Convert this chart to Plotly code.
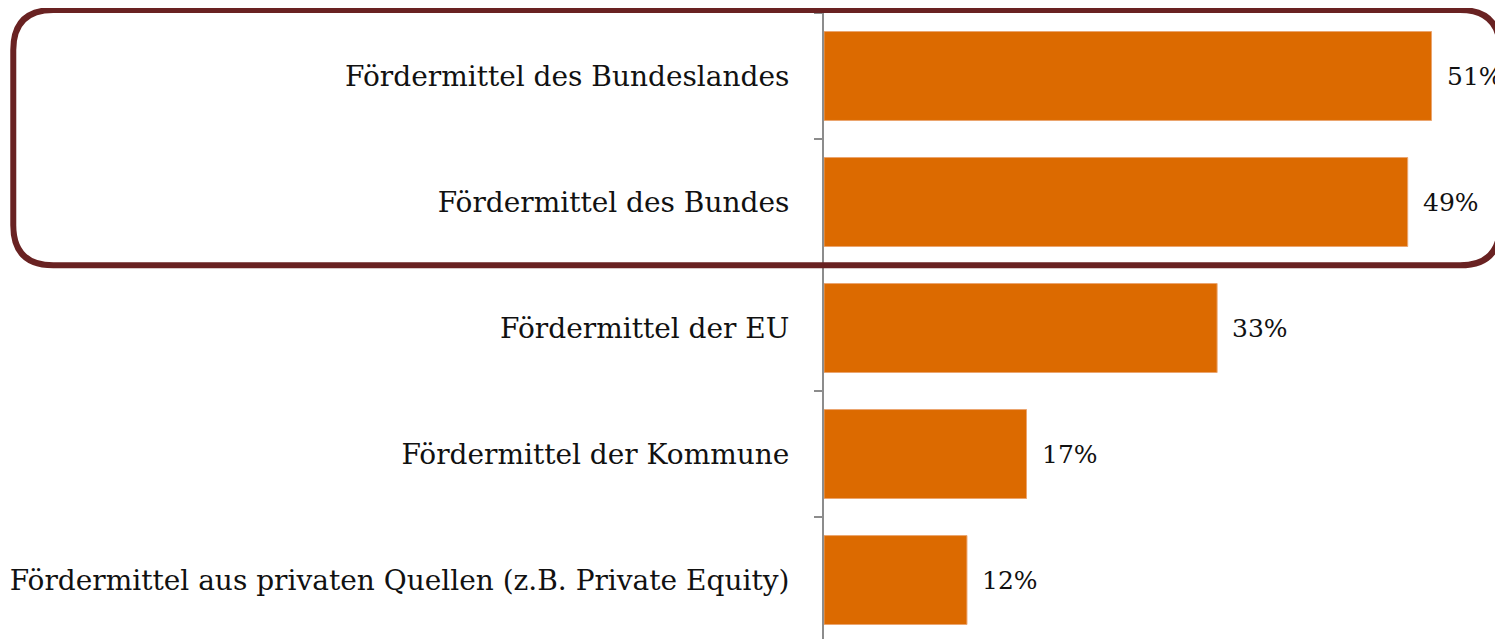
import plotly.graph_objects as go

categories = [
    "Fördermittel des Bundeslandes",
    "Fördermittel des Bundes",
    "Fördermittel der EU",
    "Fördermittel der Kommune",
    "Fördermittel aus privaten Quellen (z.B. Private Equity)",
]
shares = [51, 49, 33, 17, 12]
share_labels = ["51%", "49%", "33%", "17%", "12%"]

ORANGE = "#DC6A00"
FRAME = "#692222"
FONT = "DejaVu Serif"

fig = go.Figure()
fig.add_trace(go.Bar(
    x=shares,
    y=categories,
    orientation="h",
    marker=dict(color=ORANGE, line=dict(color="#EBA56F", width=1)),
    hoverinfo="skip",
))

# value labels right of each bar
for cat, val, lab in zip(categories, shares, share_labels):
    fig.add_annotation(
        x=val, y=cat, text=lab, showarrow=False,
        xanchor="left", xshift=13,
        font=dict(family=FONT, size=25, color="#111111"),
    )

# rounded frame around the first two categories (paper coords)
x0, x1 = -1.194, 0.9956
y0, y1 = 0.597, 1.0048
rx, ry = 40 / 679, 40 / 626
path = (
    f"M {x0 + rx},{y1} L {x1 - rx},{y1} Q {x1},{y1} {x1},{y1 - ry} "
    f"L {x1},{y0 + ry} Q {x1},{y0} {x1 - rx},{y0} "
    f"L {x0 + rx},{y0} Q {x0},{y0} {x0},{y0 + ry} "
    f"L {x0},{y1 - ry} Q {x0},{y1} {x0 + rx},{y1} Z"
)
fig.add_shape(type="path", path=path, xref="paper", yref="paper",
              line=dict(color=FRAME, width=6), layer="above")

fig.update_layout(
    width=1495, height=631,
    margin=dict(l=816, r=0, t=5, b=0),
    paper_bgcolor="white", plot_bgcolor="white",
    bargap=0.294,
    showlegend=False,
    font=dict(family=FONT, size=28, color="#111111"),
    xaxis=dict(range=[0, 57], visible=False, showgrid=False, zeroline=False),
    yaxis=dict(
        type="category",
        range=[4.468, -0.5],
        showline=True, linecolor="#8C8C8C", linewidth=2,
        ticks="outside", ticklen=8, tickwidth=2, tickcolor="#8C8C8C",
        tickson="boundaries",
        ticklabelstandoff=27,
        showgrid=False, zeroline=False,
        tickfont=dict(family=FONT, size=28, color="#111111"),
    ),
)

fig.write_html("out.html")
